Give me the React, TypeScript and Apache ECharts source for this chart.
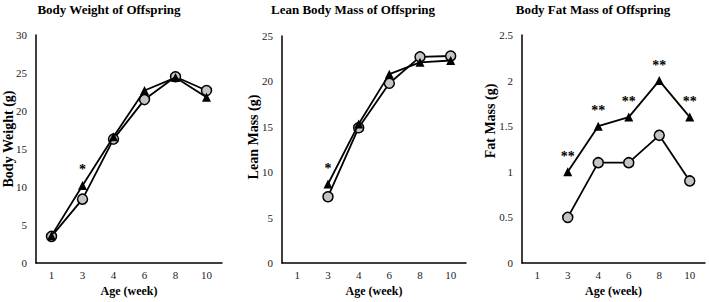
import React, { useEffect, useRef } from "react";
import * as echarts from "echarts";

const weeks = ["1", "3", "4", "6", "8", "10"];

const titles = ["Body Weight of Offspring", "Lean Body Mass of Offspring", "Body Fat Mass of Offspring"];
const yNames = ["Body Weight (g)", "Lean Mass (g)", "Fat Mass (g)"];

const bwCircle = [3.5, 8.4, 16.3, 21.5, 24.5, 22.7];
const bwTriangle = [3.6, 10.2, 16.6, 22.7, 24.4, 21.8];
const bwSig = ["", "*", "", "", "", ""];

const leanCircle = [null, 7.3, 14.9, 19.8, 22.7, 22.8];
const leanTriangle = [null, 8.7, 15.3, 20.8, 22.1, 22.3];
const leanSig = ["", "*", "", "", "", ""];

const fatCircle = [null, 0.5, 1.1, 1.1, 1.4, 0.9];
const fatTriangle = [null, 1.0, 1.5, 1.6, 2.0, 1.6];
const fatSig = ["", "**", "**", "**", "**", "**"];

const yMax = [30, 25, 2.5];
const yInterval = [5, 5, 0.5];

const FONT = "'Liberation Serif', 'Times New Roman', serif";

export default function App() {
  const ref = useRef<HTMLDivElement>(null);
  useEffect(() => {
    if (!ref.current) return;
    const chart = echarts.init(ref.current, null, { renderer: "svg" });
    const grids = [
      { left: 36, top: 35, width: 186, height: 228 },
      { left: 282, top: 36, width: 184, height: 227 },
      { left: 522, top: 35, width: 183, height: 228 },
    ];
    const titleX = [109, 353, 593];
    const yNamePos = [
      [8, 139],
      [253, 137],
      [490, 121],
    ];
    const circles = [bwCircle, leanCircle, fatCircle];
    const triangles = [bwTriangle, leanTriangle, fatTriangle];
    const sigs = [bwSig, leanSig, fatSig];

    const series: any[] = [];
    for (let i = 0; i < 3; i++) {
      series.push({
        type: "line",
        xAxisIndex: i,
        yAxisIndex: i,
        data: circles[i],
        color: "#000",
        symbol: "circle",
        symbolSize: 10,
        lineStyle: { color: "#000", width: 1.8 },
        itemStyle: { color: "#c4c4c4", borderColor: "#000", borderWidth: 1.5 },
        z: 2,
      });
      const sig = sigs[i];
      series.push({
        type: "line",
        xAxisIndex: i,
        yAxisIndex: i,
        data: triangles[i],
        color: "#000",
        symbol: "triangle",
        symbolSize: 9,
        lineStyle: { color: "#000", width: 1.8 },
        itemStyle: { color: "#000", borderColor: "#000", borderWidth: 0 },
        label: {
          show: true,
          position: "top",
          distance: 4,
          formatter: (p: any) => sig[p.dataIndex] || "",
          fontFamily: FONT,
          fontWeight: "bold",
          fontSize: 14,
          color: "#000",
          textBorderWidth: 0,
        },
        z: 3,
      });
    }

    const graphics: any[] = [];
    titles.forEach((t, i) => {
      graphics.push({
        type: "text",
        x: titleX[i],
        y: 9,
        style: {
          text: t,
          align: "center",
          verticalAlign: "middle",
          fontFamily: FONT,
          fontWeight: "bold",
          fontSize: 13,
          fill: "#000",
        },
      });
    });
    yNames.forEach((t, i) => {
      graphics.push({
        type: "text",
        x: yNamePos[i][0],
        y: yNamePos[i][1],
        rotation: Math.PI / 2,
        style: {
          text: t,
          align: "center",
          verticalAlign: "middle",
          fontFamily: FONT,
          fontWeight: "bold",
          fontSize: 14,
          fill: "#000",
        },
      });
    });

    chart.setOption({
      animation: false,
      backgroundColor: "#fff",
      color: ["#000"],
      graphic: graphics,
      grid: grids,
      xAxis: grids.map((_, i) => ({
        type: "category",
        gridIndex: i,
        data: weeks,
        boundaryGap: true,
        name: "Age (week)",
        nameLocation: "middle",
        nameGap: 22,
        nameTextStyle: { fontFamily: FONT, fontWeight: "bold", fontSize: 12, color: "#000" },
        axisLine: { lineStyle: { color: "#000", width: 1.5 } },
        axisTick: { show: false },
        axisLabel: { fontFamily: FONT, fontSize: 11, color: "#222", margin: 6 },
        splitLine: { show: false },
      })),
      yAxis: grids.map((_, i) => ({
        type: "value",
        gridIndex: i,
        min: 0,
        max: yMax[i],
        interval: yInterval[i],
        axisLine: { show: true, lineStyle: { color: "#000", width: 1.5 } },
        axisTick: { show: false },
        axisLabel: { fontFamily: FONT, fontSize: 11, color: "#222", margin: 9 },
        splitLine: { show: false },
      })),
      series,
    });
    return () => chart.dispose();
  }, []);
  return (
    <div
      ref={ref}
      style={{ position: "absolute", left: 0, top: 0, width: 709, height: 302 }}
    />
  );
}
